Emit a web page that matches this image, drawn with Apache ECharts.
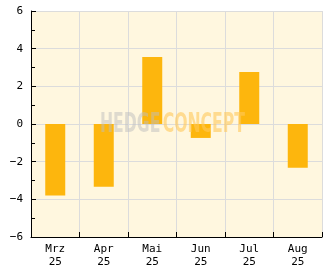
<!DOCTYPE html>
<html><head><meta charset="utf-8">
<script src="https://cdn.jsdelivr.net/npm/echarts@6/dist/echarts.min.js"></script>
<style>html,body{margin:0;padding:0;background:#fff}#c{width:332px;height:269px}</style>
</head><body><div id="c"></div>
<script>
const categories = ['Mrz\n25','Apr\n25','Mai\n25','Jun\n25','Jul\n25','Aug\n25'];
const values = [-3.8, -3.33, 3.56, -0.74, 2.76, -2.32];
const yMin = -6, yMax = 6, yStep = 2;

const chart = echarts.init(document.getElementById('c'), null, {renderer:'canvas'});
const font = 'DejaVu Sans Mono';
chart.setOption({
  backgroundColor:'#ffffff',
  animation:false,
  grid:{left:31, right:10, top:11, bottom:32, containLabel:false, show:true, backgroundColor:'#FFF7DF', borderWidth:0},
  xAxis:{type:'category', data:categories, boundaryGap:true,
    axisLine:{onZero:false, lineStyle:{color:'#000',width:1}},
    axisTick:{show:true, inside:true, length:5, lineStyle:{color:'#000'}},
    axisLabel:{color:'#000', fontFamily:font, fontSize:11, lineHeight:13, margin:6, align:'center'},
    splitLine:{show:true, lineStyle:{color:'#dcdcdc', width:1}}
  },
  yAxis:{type:'value', min:yMin, max:yMax, interval:yStep,
    axisLine:{show:true, lineStyle:{color:'#000',width:1}},
    axisTick:{show:true, inside:true, length:5, lineStyle:{color:'#000'}},
    minorTick:{show:true, splitNumber:2, length:4, lineStyle:{color:'#000'}},
    axisLabel:{color:'#000', fontFamily:font, fontSize:11, margin:8,
      formatter:v=> v<0 ? '\u2212'+Math.abs(v) : String(v)},
    splitLine:{show:true, lineStyle:{color:'#dcdcdc', width:1}}
  },
  series:[{type:'bar', data:values, barWidth:20, itemStyle:{color:'#FDB60D'}, z:2}],
  graphic:[{type:'text', left:100, top:112, z:100, scaleX:0.67,
    style:{text:'{a|HEDGE} {b|CONCEPT}', rich:{
      a:{fill:'rgba(190,190,190,0.5)', font:'bold 26px "DejaVu Sans Condensed"'},
      b:{fill:'rgba(255,200,90,0.6)', font:'bold 26px "DejaVu Sans Condensed"'}}}}]
});
</script></body></html>
